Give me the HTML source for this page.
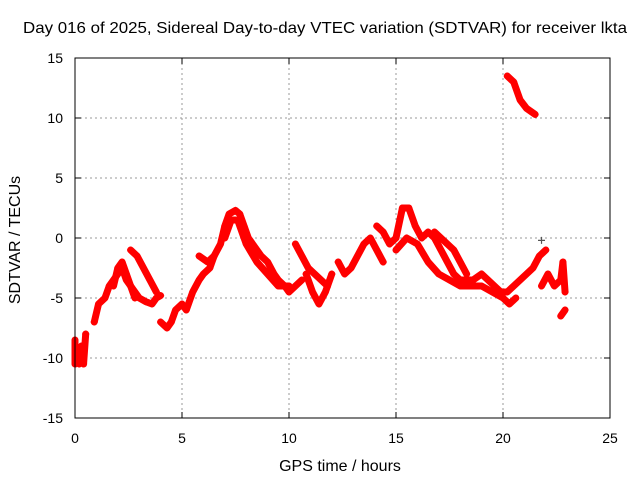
<!DOCTYPE html>
<html><head><meta charset="utf-8"><style>
body{margin:0;background:#fff;}
svg text{font-family:"Liberation Sans",sans-serif;font-size:14px;fill:#000;}
svg text.big{font-size:16px;}
</style></head><body>
<svg id="chart" width="640" height="480">
<text class="big" x="325" y="33" text-anchor="middle" textLength="604" lengthAdjust="spacingAndGlyphs">Day 016 of 2025, Sidereal Day-to-day VTEC variation (SDTVAR) for receiver lkta</text>
<text class="big" x="340" y="471" text-anchor="middle">GPS time / hours</text>
<text class="big" transform="translate(20,240) rotate(-90)" text-anchor="middle">SDTVAR / TECUs</text>
<g id="grid"></g><g id="marks"></g>
<rect x="75" y="58" width="535" height="360" fill="none" stroke="#000"/>
</svg>
<script>
const xTicks=[0,5,10,15,20,25];
const yTicks=[-15,-10,-5,0,5,10,15];
const tracks=[
[[0,-8.5],[0,-10.5],[0.1,-9.5],[0.2,-10.5],[0.3,-9],[0.4,-10.5],[0.5,-8]],
[[0.9,-7],[1.1,-5.5],[1.4,-5],[1.6,-4],[1.8,-3.5],[2.0,-3],[2.2,-2.5],[2.4,-3.5],[2.6,-4],[2.8,-4.5],[3.0,-5],[3.3,-5.3],[3.6,-5.5],[3.8,-5],[4.0,-4.8]],
[[1.8,-4],[2.0,-2.5],[2.2,-2],[2.4,-3],[2.6,-4],[2.8,-5]],
[[2.6,-1],[2.9,-1.5],[3.2,-2.5],[3.5,-3.5],[3.8,-4.5]],
[[4.0,-7],[4.3,-7.5],[4.5,-7],[4.7,-6],[5.0,-5.5],[5.2,-6],[5.5,-4.5],[5.8,-3.5],[6.0,-3],[6.3,-2.5],[6.5,-1.5]],
[[5.8,-1.5],[6.2,-2],[6.5,-1.5],[6.8,-0.5],[7.0,1],[7.2,2],[7.5,2.3],[7.7,2],[7.9,1],[8.1,0],[8.3,-0.5],[8.5,-1],[8.7,-1.5],[9.0,-2],[9.3,-3],[9.5,-3.5],[9.8,-4],[10.0,-4.5],[10.3,-4],[10.6,-3.5]],
[[7.0,0],[7.3,1.5],[7.6,1.5],[8.0,-0.5],[8.5,-2],[9.0,-3],[9.5,-4],[10,-4]],
[[10.3,-0.5],[10.6,-1.5],[10.9,-2.5],[11.2,-3],[11.5,-3.5],[11.8,-4]],
[[10.8,-3],[11.1,-4.5],[11.4,-5.5],[11.7,-4.5],[12.0,-3]],
[[12.3,-2],[12.6,-3],[12.9,-2.5],[13.2,-1.5],[13.5,-0.5],[13.8,0],[14.1,-1],[14.4,-2]],
[[14.1,1],[14.4,0.5],[14.7,-0.5],[15.0,0],[15.3,2.5],[15.6,2.5],[15.9,1],[16.2,0],[16.5,0.5],[16.8,0],[17.1,-1],[17.4,-2],[17.7,-3],[18.0,-3.5],[18.3,-3.5],[18.6,-3.5],[19.0,-3],[19.3,-3.5],[19.6,-4],[19.9,-4.5],[20.2,-4.5],[20.5,-4],[20.8,-3.5],[21.1,-3],[21.4,-2.5],[21.7,-1.5],[22.0,-1]],
[[15.0,-1],[15.5,0],[16.0,-0.5],[16.5,-2],[17,-3],[17.5,-3.5],[18,-4],[18.5,-4],[19,-4],[19.5,-4.5],[20,-5],[20.3,-5.5],[20.6,-5]],
[[16.8,0.5],[17.1,0],[17.4,-0.5],[17.7,-1],[18.0,-2],[18.3,-3]],
[[20.2,13.5],[20.5,13],[20.8,11.5],[21.1,10.8],[21.5,10.3]],
[[21.8,-4],[22.1,-3],[22.4,-4],[22.7,-3.5],[22.8,-2],[22.9,-4.5]],
[[22.7,-6.5],[22.9,-6]]
];
const outlier=[[21.8,-0.2]];
const X=v=>75+v*535/25, Y=v=>238-v*12;
const NS="http://www.w3.org/2000/svg";
const grid=document.getElementById('grid'), marks=document.getElementById('marks');
function mk(tag,attrs,parent){const e=document.createElementNS(NS,tag);for(const k in attrs)e.setAttribute(k,attrs[k]);parent.appendChild(e);return e;}
xTicks.forEach(t=>{
 if(t>0&&t<25){const g=mk('line',{x1:X(t),x2:X(t),y1:58,y2:418,stroke:'#999','stroke-dasharray':'2,3'},grid);
 
 }
 mk('line',{x1:X(t),x2:X(t),y1:418,y2:412,stroke:'#000'},grid);
 mk('line',{x1:X(t),x2:X(t),y1:58,y2:64,stroke:'#000'},grid);
 const l=mk('text',{x:X(t),y:443,'text-anchor':'middle'},grid);l.textContent=t;
 
 
});
yTicks.forEach(t=>{
 if(t>-15&&t<15){const g=mk('line',{x1:75,x2:610,y1:Y(t),y2:Y(t),stroke:'#999','stroke-dasharray':'2,3'},grid);
 
 }
 mk('line',{x1:75,x2:81,y1:Y(t),y2:Y(t),stroke:'#000'},grid);
 mk('line',{x1:610,x2:604,y1:Y(t),y2:Y(t),stroke:'#000'},grid);
 const l=mk('text',{x:63,y:Y(t)+5,'text-anchor':'end'},grid);l.textContent=t;
 
 
});
function plus(x,y,c,p){mk('path',{d:`M${x-3.5},${y}h7M${x},${y-3.5}v7`,stroke:c,'stroke-width':1.2},p);}
tracks.forEach(tr=>{
 const g=mk('g',{},marks);
 
 
 mk('polyline',{points:tr.map(p=>X(p[0])+','+Y(p[1])).join(' '),fill:'none',stroke:'#f00','stroke-width':7,'stroke-linejoin':'round','stroke-linecap':'round'},g);
 tr.forEach(p=>plus(X(p[0]),Y(p[1]),'#f00',g));
});
outlier.forEach(p=>{const g=mk('g',{},marks);
 
 
 plus(X(p[0]),Y(p[1]),'#555',g);});
</script>
</body></html>
